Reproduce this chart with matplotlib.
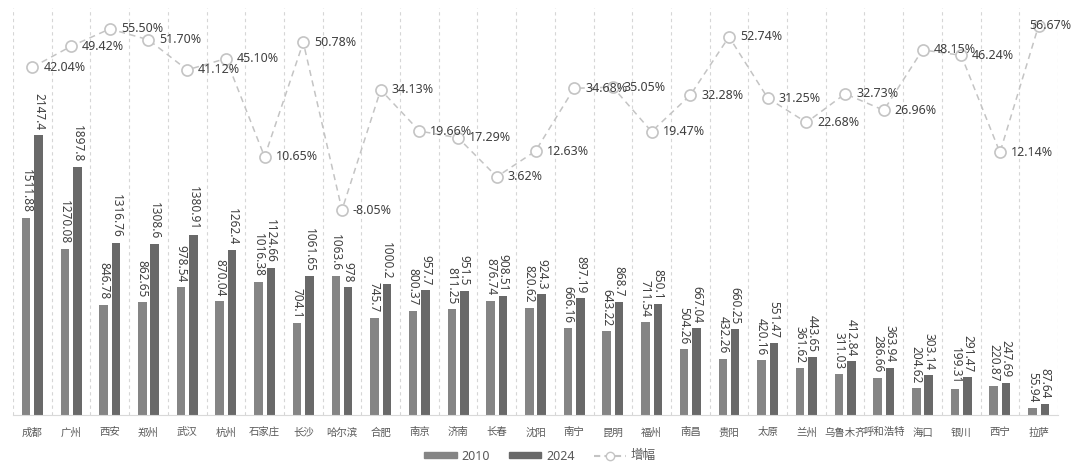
import matplotlib
matplotlib.use("Agg")
import matplotlib.pyplot as plt
import numpy as np
from matplotlib.patches import Patch
from matplotlib.lines import Line2D

plt.rcParams['font.family'] = ['Noto Sans', 'Noto Sans CJK SC', 'DejaVu Sans']

cities = ['成都', '广州', '西安', '郑州', '武汉', '杭州', '石家庄', '长沙', '哈尔滨',
          '合肥', '南京', '济南', '长春', '沈阳', '南宁', '昆明', '福州', '南昌',
          '贵阳', '太原', '兰州', '乌鲁木齐', '呼和浩特', '海口', '银川', '西宁', '拉萨']
v2010 = [1511.88, 1270.08, 846.78, 862.65, 978.54, 870.04, 1016.38, 704.1, 1063.6,
         745.7, 800.37, 811.25, 876.74, 820.62, 666.16, 643.22, 711.54, 504.26,
         432.26, 420.16, 361.62, 311.03, 286.66, 204.62, 199.31, 220.87, 55.94]
v2024 = [2147.4, 1897.8, 1316.76, 1308.6, 1380.91, 1262.4, 1124.66, 1061.65, 978,
         1000.2, 957.7, 951.5, 908.51, 924.3, 897.19, 868.7, 850.1, 667.04,
         660.25, 551.47, 443.65, 412.84, 363.94, 303.14, 291.47, 247.69, 87.64]
growth = [42.04, 49.42, 55.50, 51.70, 41.12, 45.10, 10.65, 50.78, -8.05,
          34.13, 19.66, 17.29, 3.62, 12.63, 34.68, 35.05, 19.47, 32.28,
          52.74, 31.25, 22.68, 32.73, 26.96, 48.15, 46.24, 12.14, 56.67]

c2010 = '#858585'
c2024 = '#696969'
cline = '#c4c4c4'
ctext = '#404040'

fig = plt.figure(figsize=(10.8, 4.72), dpi=100)
ax = fig.add_axes([13 / 1080, 57 / 472, 1045 / 1080, 407 / 472])
ax2 = ax.twinx()

x = np.arange(len(cities))
w = 0.22
off = 0.16
b1 = ax.bar(x - off, v2010, w, color=c2010, zorder=2)
b2 = ax.bar(x + off, v2024, w, color=c2024, zorder=2)

def fmt(v):
    return ('%.2f' % v).rstrip('0').rstrip('.')

for bars, vals in ((b1, v2010), (b2, v2024)):
    for r, v in zip(bars, vals):
        ax.annotate(fmt(v), (r.get_x() + r.get_width() / 2, r.get_height()),
                    xytext=(0, 5), textcoords='offset pixels', rotation=270,
                    ha='center', va='bottom', fontsize=8.5, color=ctext)

for i in range(len(cities) + 1):
    ax.axvline(i - 0.5, color='#d6d6d6', lw=0.8, ls=(0, (3, 3)), zorder=0)

ax.set_xlim(-0.5, len(cities) - 0.5)
ax.set_ylim(0, 3119)
ax.set_yticks([])
for s in ['left', 'right', 'top']:
    ax.spines[s].set_visible(False)
ax.spines['bottom'].set_color('#d9d9d9')
ax.set_xticks(x)
ax.set_xticklabels(cities, fontsize=7.5, color='#595959')
ax.tick_params(axis='x', length=0, pad=9)

ax2.plot(x, growth, color=cline, lw=1.1, ls=(0, (4, 3)), marker='o', ms=8,
         mfc='white', mec=cline, mew=1.2, zorder=3)
for xi, g in zip(x, growth):
    # the last label would run past the right edge, so it sits over its marker
    dx = 11 if xi < len(cities) - 1 else -9
    ax2.annotate('%.2f%%' % g, (xi, g), xytext=(dx, 0), textcoords='offset pixels',
                 ha='left', va='center', fontsize=9, color=ctext)
ax2.set_ylim(-80, 62.85)
ax2.set_yticks([])
for s in ['left', 'right', 'top', 'bottom']:
    ax2.spines[s].set_visible(False)

handles = [Patch(color=c2010, label='2010'), Patch(color=c2024, label='2024'),
           Line2D([], [], color=cline, ls=(0, (3, 2)), marker='o', ms=6,
                  mfc='white', mec=cline, label='增幅')]
fig.legend(handles=handles, loc='center', bbox_to_anchor=(0.5, 16 / 472), ncol=3,
           frameon=False, fontsize=9, handlelength=2.6, handleheight=0.45,
           columnspacing=1.5, handletextpad=0.4, labelcolor='#595959')

fig.savefig('out.png', dpi=100)
